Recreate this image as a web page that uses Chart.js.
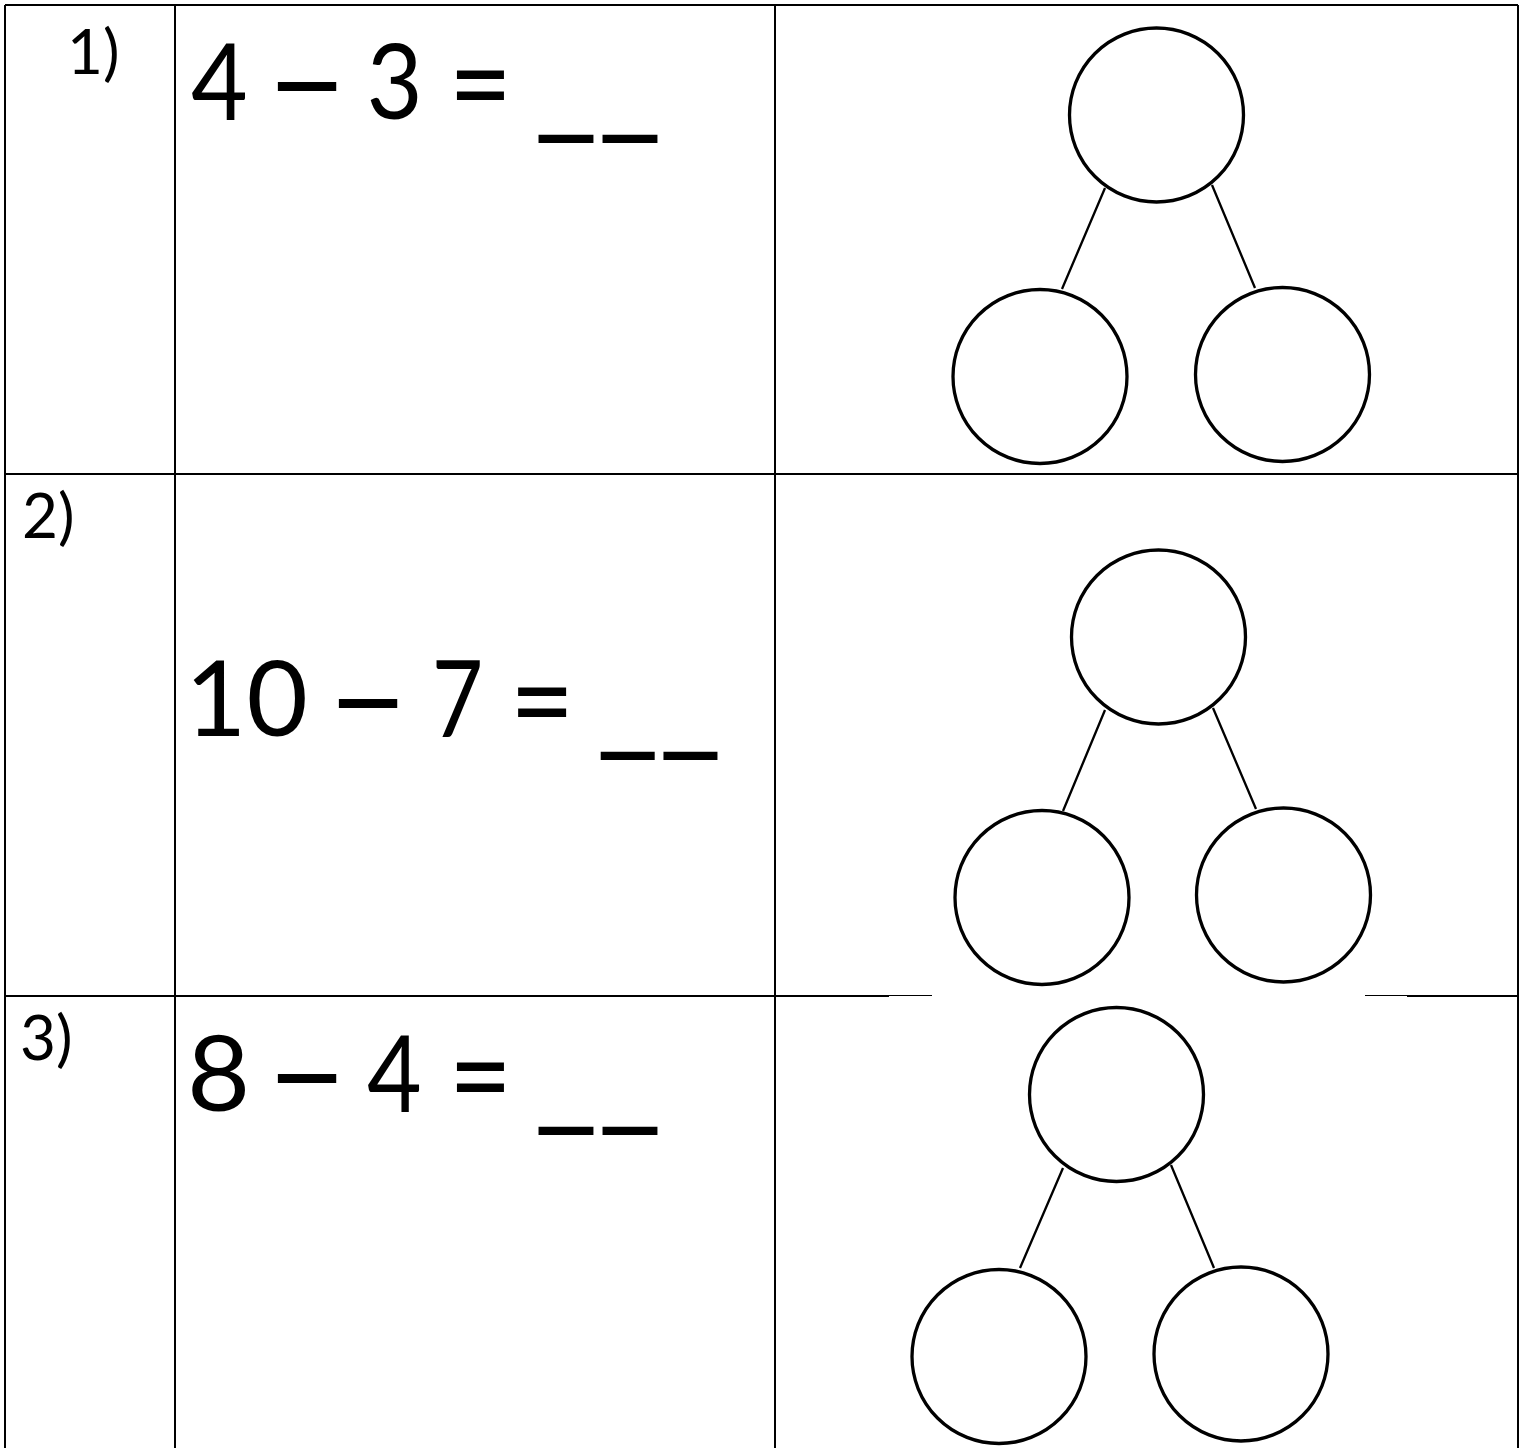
<!DOCTYPE html>
<html>
<head>
<meta charset="utf-8">
<script src="https://cdn.jsdelivr.net/npm/chart.js@4.4.1/dist/chart.umd.min.js"></script>
<style>
  html, body { margin: 0; padding: 0; background: #fff; }
  #sheet { display: block; }
</style>
</head>
<body>
<canvas id="sheet" width="1528" height="1448"></canvas>
<script>
// Worksheet content (page pixels)
const rowLabels = ['1)', '2)', '3)'];
const equations = ['4 – 3 = __', '10 – 7 = __', '8 – 4 = __'];

// number-bond circles: centres
const topCircleX = [1156.5, 1158.5, 1116.5];
const topCircleY = [115, 637, 1094.5];
const leftCircleX = [1040, 1042, 999];
const leftCircleY = [376.5, 897.5, 1356.5];
const rightCircleX = [1282.5, 1283.5, 1241];
const rightCircleY = [374.5, 895, 1354];

// connector lines: x1, y1, x2, y2
const leftLinks = [[1105, 188, 1062, 289], [1105, 710, 1063, 811], [1063, 1168, 1020, 1268]];
const rightLinks = [[1212, 185, 1255, 288], [1213, 708, 1256, 809], [1171, 1165, 1214, 1268]];

// table rules
const colLines = [5, 175, 775, 1518];
const rowLines = [5, 474];
const pageBottom = 1448;
// the third rule is broken in the original
const thickRule3 = [[5, 889], [1407, 1518]];
const thinRule3 = [[889, 932], [1365, 1407]];
const rule3Y = 996;

// text layout: label ink left / baseline, equation token ink spans and baselines
const labelInkX = [72, 24, 22];
const labelBase = [74, 538, 1060];
const tokenLeft = [[192, 277, 370, 457, 538], [193, 338, 436, 518, 600], [192, 277, 368, 457, 538]];
const tokenRight = [[246, 337, 418, 505, 658], [305, 398, 480, 567, 718], [245, 337, 420, 505, 658]];
const eqBase = [120, 737, 1112];
// vertical ink extent relative to the baseline, per kind of token
function vExtent(tok) {
  if (tok === '–') return [-38, -29];
  if (tok === '=') return [-50, -20];
  if (tok === '__') return [13, 22];
  return [-77, 0];
}

// build segment lists (null points break the line)
function segs(list) {
  const out = [];
  list.forEach(s => { out.push({ x: s[0], y: s[1] }, { x: s[2], y: s[3] }, { x: null, y: null }); });
  return out;
}

const tableSegs = [];
colLines.forEach(x => tableSegs.push([x, rowLines[0], x, pageBottom]));
rowLines.forEach(y => tableSegs.push([colLines[0], y, colLines[3], y]));
thickRule3.forEach(r => tableSegs.push([r[0], rule3Y, r[1], rule3Y]));
const thinSegs = thinRule3.map(r => [r[0], rule3Y - 0.5, r[1], rule3Y - 0.5]);

const circles = [];
for (let i = 0; i < 3; i++) {
  circles.push({ x: topCircleX[i], y: topCircleY[i] });
  circles.push({ x: leftCircleX[i], y: leftCircleY[i] });
  circles.push({ x: rightCircleX[i], y: rightCircleY[i] });
}

const textPlugin = {
  id: 'worksheetText',
  afterDatasetsDraw(chart) {
    const ctx = chart.ctx;
    const xs = chart.scales.x, ys = chart.scales.y;
    ctx.save();
    ctx.fillStyle = '#000';
    ctx.textBaseline = 'alphabetic';
    ctx.textAlign = 'left';

    ctx.font = '62px Lato';
    rowLabels.forEach((t, i) => {
      const m = ctx.measureText(t);
      ctx.fillText(t, xs.getPixelForValue(labelInkX[i]) + m.actualBoundingBoxLeft, ys.getPixelForValue(labelBase[i]));
    });

    // equations: fit each token's ink box to the one in the original
    ctx.font = '107px Lato';
    equations.forEach((eq, i) => {
      eq.split(' ').forEach((tok, j) => {
        const m = ctx.measureText(tok);
        const ext = vExtent(tok);
        const L = xs.getPixelForValue(tokenLeft[i][j]);
        const R = xs.getPixelForValue(tokenRight[i][j]);
        const T = ys.getPixelForValue(eqBase[i] + ext[0]);
        const B = ys.getPixelForValue(eqBase[i] + ext[1]);
        const w = m.actualBoundingBoxLeft + m.actualBoundingBoxRight;
        const h = m.actualBoundingBoxAscent + m.actualBoundingBoxDescent;
        ctx.save();
        ctx.translate(L, T);
        ctx.scale((R - L) / w, (B - T) / h);
        ctx.fillText(tok, m.actualBoundingBoxLeft, m.actualBoundingBoxAscent);
        ctx.restore();
      });
    });
    ctx.restore();
  }
};

new Chart(document.getElementById('sheet'), {
  type: 'scatter',
  data: {
    datasets: [
      {
        type: 'line', data: segs(tableSegs), borderColor: '#000', borderWidth: 2,
        pointRadius: 0, spanGaps: false, fill: false, tension: 0
      },
      {
        type: 'line', data: segs(thinSegs), borderColor: '#000', borderWidth: 1,
        pointRadius: 0, spanGaps: false, fill: false, tension: 0
      },
      {
        type: 'line', data: segs(leftLinks.concat(rightLinks)), borderColor: '#000', borderWidth: 2.3,
        pointRadius: 0, spanGaps: false, fill: false, tension: 0
      },
      {
        data: circles, pointRadius: 87, pointBorderWidth: 3.3,
        pointBorderColor: '#000', pointBackgroundColor: 'rgba(255,255,255,0)'
      }
    ]
  },
  options: {
    responsive: false,
    animation: false,
    events: [],
    layout: { padding: 0, autoPadding: false },
    plugins: { legend: { display: false }, tooltip: { enabled: false } },
    scales: {
      x: { type: 'linear', min: 0, max: 1528, display: false },
      y: { type: 'linear', min: 0, max: 1448, reverse: true, display: false }
    }
  },
  plugins: [textPlugin]
});
</script>
</body>
</html>
